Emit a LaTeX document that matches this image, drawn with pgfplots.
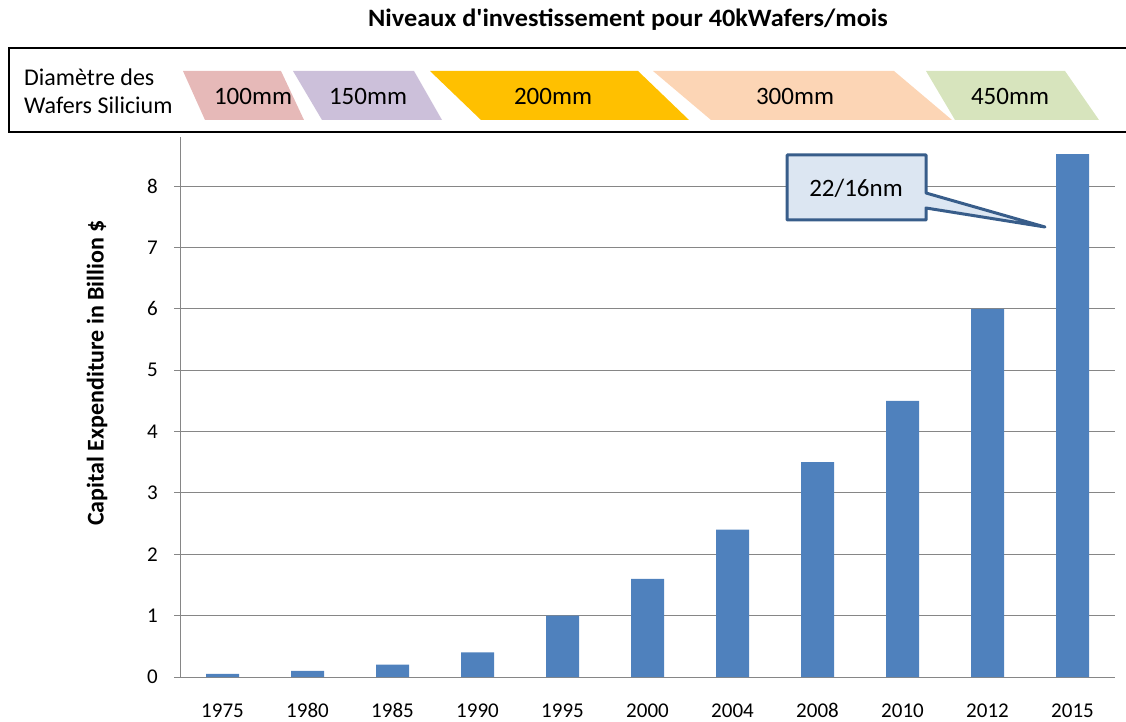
\documentclass[border=0pt]{standalone}
\usepackage{fontspec}
\setmainfont{Carlito}
\usepackage{pgfplots}
\pgfplotsset{compat=1.18}
\definecolor{barblue}{HTML}{4F81BD}
\definecolor{gridgray}{HTML}{868686}
\definecolor{c100}{HTML}{E6B9B8}
\definecolor{c150}{HTML}{CCC0DA}
\definecolor{c200}{HTML}{FFC000}
\definecolor{c300}{HTML}{FCD5B5}
\definecolor{c450}{HTML}{D7E4BD}
\definecolor{calfill}{HTML}{DCE6F2}
\definecolor{caledge}{HTML}{385D8A}
\begin{document}
\begin{tikzpicture}
\path[use as bounding box] (0pt,0pt) rectangle (1126pt,721pt);
\begin{axis}[
  at={(180pt,44pt)}, anchor=south west,
  scale only axis, width=935pt, height=540pt,
  xmin=-0.5, xmax=10.5, ymin=0, ymax=8.8,
  axis lines*=left,
  axis line style={draw=gridgray, line width=1pt, -},
  ybar, bar width=33pt,
  xtick={0,...,10},
  xticklabels={1975,1980,1985,1990,1995,2000,2004,2008,2010,2012,2015},
  major x tick style={draw=none},
  extra x ticks={-0.5,0.5,1.5,2.5,3.5,4.5,5.5,6.5,7.5,8.5,9.5,10.5},
  extra x tick labels={},
  extra x tick style={grid=none, major tick style={draw=gridgray, line width=1pt}},
  ytick={0,...,8},
  ymajorgrids, grid style={gridgray, line width=1pt},
  major y tick style={draw=gridgray, line width=1pt},
  tick align=outside, major tick length=6pt,
  /pgf/number format/assume math mode=true,
  xticklabel style={font=\fontsize{21}{24}\selectfont, anchor=base, inner sep=0pt, yshift=-34pt},
  yticklabel style={font=\fontsize{21}{24}\selectfont, anchor=east, inner sep=0pt, xshift=-16pt},
]
\addplot[fill=barblue, draw=none] coordinates {
  (0,0.05) (1,0.1) (2,0.2) (3,0.4) (4,1.0) (5,1.6) (6,2.4) (7,3.5) (8,4.5) (9,6.0) (10,8.52)};
\end{axis}
\begin{scope}[x=1pt, y=-1pt, shift={(0pt,721pt)}]
  % title
  \node[font=\fontsize{25}{27}\selectfont\bfseries, xscale=1.05] at (628,20) {Niveaux d\textquotesingle investissement pour 40kWafers/mois};
  % y label
  \node[font=\fontsize{24}{26}\selectfont\bfseries, rotate=90] at (97,373) {Capital Expenditure in Billion \$};
  % banner
  \draw[black, line width=1.5pt] (9,48) rectangle (1140,132);
  \node[anchor=west, font=\fontsize{24}{26}\selectfont, inner sep=0pt] at (24,77) {Diamètre des};
  \node[anchor=west, font=\fontsize{24}{26}\selectfont, inner sep=0pt] at (24,105) {Wafers Silicium};
  \fill[c100] (183,71) -- (281,71) -- (304,120) -- (205,120) -- cycle;
  \fill[c150] (293,71) -- (414,71) -- (442,120) -- (322,120) -- cycle;
  \fill[c200] (430,71) -- (638,71) -- (689,120) -- (481,120) -- cycle;
  \fill[c300] (653,71) -- (894,71) -- (952,120) -- (711,120) -- cycle;
  \fill[c450] (926,71) -- (1065,71) -- (1099,120) -- (955,120) -- cycle;
  \node[font=\fontsize{25}{27}\selectfont] at (253,96) {100mm};
  \node[font=\fontsize{25}{27}\selectfont] at (368,96) {150mm};
  \node[font=\fontsize{25}{27}\selectfont] at (553,96) {200mm};
  \node[font=\fontsize{25}{27}\selectfont] at (795,96) {300mm};
  \node[font=\fontsize{25}{27}\selectfont] at (1010,96) {450mm};
  % callout
  \draw[caledge, fill=calfill, line width=3pt, line join=round]
    (787,155) -- (926,155) -- (926,193) -- (1045,227) -- (926,208) -- (926,220) -- (787,220) -- cycle;
  \node[font=\fontsize{25}{27}\selectfont] at (856,188) {22/16nm};
\end{scope}
\end{tikzpicture}
\end{document}
